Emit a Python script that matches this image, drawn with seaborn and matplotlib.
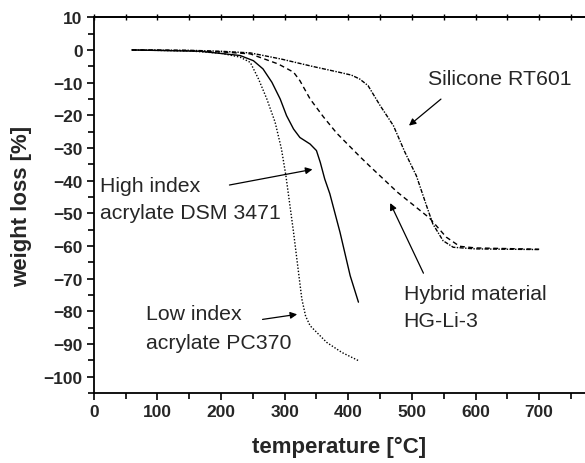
import matplotlib
matplotlib.use("Agg")
import matplotlib.pyplot as plt
import seaborn as sns
import pandas as pd
from matplotlib.ticker import MultipleLocator

# ---- data ----
silicone_T = [60, 150, 200, 246, 295, 343, 385, 405, 418, 431, 450, 471, 489, 507, 523, 533, 549, 565, 600, 650, 701]
silicone_W = [0, -0.1, -0.4, -0.9, -2.8, -5.0, -6.8, -7.7, -8.9, -10.9, -17.0, -23.2, -31.3, -38.5, -47.7, -53.3, -58.4, -60.4, -60.9, -61.0, -61.1]

hybrid_T = [60, 150, 200, 246, 290, 314, 324, 340, 361, 382, 418, 435, 477, 528, 554, 575, 600, 650, 700]
hybrid_W = [0, -0.2, -0.6, -1.2, -4.3, -6.8, -9.4, -15.0, -20.5, -25.5, -32.6, -35.8, -43.5, -51.5, -57.3, -60.1, -60.6, -60.8, -61.0]

dsm_T = [60, 167, 230, 251, 266, 280, 293, 303, 314, 324, 340, 350, 356, 363, 371, 387, 403, 416]
dsm_W = [0, -0.4, -1.7, -3.3, -5.8, -9.9, -15.0, -20.1, -24.2, -26.8, -28.8, -30.8, -34.4, -39.5, -44.0, -55.8, -69.1, -77.2]

pc_T = [60, 150, 200, 230, 246, 259, 272, 285, 295, 302, 314, 327, 333, 340, 366, 390, 416]
pc_W = [0, -0.3, -1.0, -2.2, -3.8, -8.9, -15.0, -22.1, -30.3, -38.5, -55.8, -76.2, -81.5, -84.4, -89.5, -92.6, -95.1]

series_names = ["Silicone RT601", "Hybrid material HG-Li-3", "High index acrylate DSM 3471", "Low index acrylate PC370"]

frames = []
for name, T, W in zip(series_names,
                      [silicone_T, hybrid_T, dsm_T, pc_T],
                      [silicone_W, hybrid_W, dsm_W, pc_W]):
    frames.append(pd.DataFrame({"temperature": T, "weight": W, "material": name}))
df = pd.concat(frames, ignore_index=True)

sns.set_theme(style="white")
plt.rcParams["font.family"] = ["Liberation Sans", "DejaVu Sans"]

fig = plt.figure(figsize=(5.85, 4.64), dpi=100)
ax = fig.add_axes([0.1602, 0.1509, 0.8398, 0.8097])

dashes = {
    "Silicone RT601": (3, 1, 1, 1),
    "Hybrid material HG-Li-3": (3.5, 2.5),
    "High index acrylate DSM 3471": "",
    "Low index acrylate PC370": (1, 1.3),
}
sns.lineplot(data=df, x="temperature", y="weight", hue="material", style="material",
             palette=["black"] * 4, dashes=dashes, linewidth=1.0, sort=False,
             estimator=None, legend=False, ax=ax)

ax.set_xlim(0, 772)
ax.set_ylim(-105, 10)
ax.xaxis.set_major_locator(MultipleLocator(100))
ax.xaxis.set_minor_locator(MultipleLocator(50))
ax.yaxis.set_major_locator(MultipleLocator(10))
ax.yaxis.set_minor_locator(MultipleLocator(5))

for s in ["left", "bottom", "top"]:
    ax.spines[s].set_visible(True)
    ax.spines[s].set_color("black")
    ax.spines[s].set_linewidth(1.3)
ax.spines["right"].set_visible(False)

ax.tick_params(axis="both", which="both", direction="out", color="black", width=1.2,
               bottom=True, left=True, top=False, right=False)
ax.tick_params(axis="both", which="major", length=5, labelsize=12.5, pad=3)
ax.tick_params(axis="both", which="minor", length=4)
for lab in ax.get_xticklabels() + ax.get_yticklabels():
    lab.set_fontweight("bold")

top = ax.secondary_xaxis("top")
top.xaxis.set_major_locator(MultipleLocator(50))
top.tick_params(direction="inout", length=4, width=1.0, labeltop=False, color="black")
top.spines["top"].set_linewidth(1.3)

ax.set_xlabel("temperature [°C]", fontsize=16, fontweight="bold", labelpad=12)
ax.set_ylabel("weight loss [%]", fontsize=16, fontweight="bold", labelpad=8)

fs = 15.3
arrow = dict(arrowstyle="-|>", color="black", lw=0.9, mutation_scale=10)
ax.text(525, -8.8, "Silicone RT601", fontsize=fs, ha="left", va="center")
ax.annotate("", xy=(492, -23.7), xytext=(549, -14.5), arrowprops=arrow)

ax.text(10, -41.5, "High index", fontsize=fs, ha="left", va="center")
ax.text(10, -49.7, "acrylate DSM 3471", fontsize=fs, ha="left", va="center")
ax.annotate("", xy=(348, -36.4), xytext=(209, -41.5), arrowprops=arrow)

ax.text(82, -80.8, "Low index", fontsize=fs, ha="left", va="center")
ax.text(82, -89.5, "acrylate PC370", fontsize=fs, ha="left", va="center")
ax.annotate("", xy=(324, -80.8), xytext=(261, -82.6), arrowprops=arrow)

ax.text(487, -74.7, "Hybrid material", fontsize=fs, ha="left", va="center")
ax.text(487, -82.9, "HG-Li-3", fontsize=fs, ha="left", va="center")
ax.annotate("", xy=(464, -46.1), xytext=(520, -69.1), arrowprops=arrow)

fig.savefig("out.png", dpi=100)
